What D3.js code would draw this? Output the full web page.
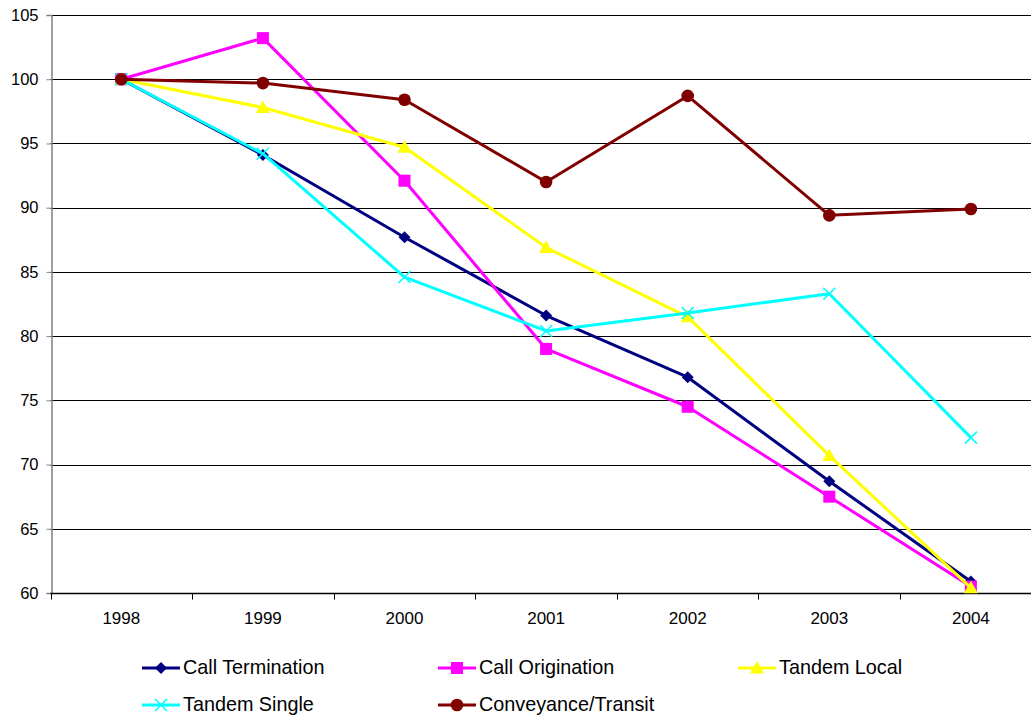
<!DOCTYPE html>
<html>
<head>
<meta charset="utf-8">
<script src="https://cdn.jsdelivr.net/npm/d3@7"></script>
<style>
  html, body { margin: 0; padding: 0; background: #fff; }
  svg { display: block; font-family: "Liberation Sans", Arial, Helvetica, sans-serif; }
</style>
</head>
<body>
<svg id="chart" width="1031" height="717"></svg>
<script>
// Index values (1998 = 100)
const years = ["1998", "1999", "2000", "2001", "2002", "2003", "2004"];
const yTicks = [60, 65, 70, 75, 80, 85, 90, 95, 100, 105];

const callTermination   = [100, 94.1, 87.7, 81.6, 76.8, 68.7, 60.9];
const callOrigination   = [100, 103.2, 92.1, 79.0, 74.5, 67.5, 60.5];
const tandemLocal       = [100, 97.8, 94.7, 86.9, 81.5, 70.7, 60.4];
const tandemSingle      = [100, 94.2, 84.6, 80.4, 81.8, 83.3, 72.1];
const conveyanceTransit = [100, 99.7, 98.4, 92.0, 98.7, 89.4, 89.9];

const seriesNames = ["Call Termination", "Call Origination", "Tandem Local", "Tandem Single", "Conveyance/Transit"];
const seriesValues = [callTermination, callOrigination, tandemLocal, tandemSingle, conveyanceTransit];
const seriesColors = ["#000080", "#FF00FF", "#FFFF00", "#00FFFF", "#800000"];
const seriesMarkers = ["diamond", "square", "triangle", "cross", "circle"];

const svg = d3.select("#chart");

const plotLeft = 50.5, plotTop = 15, plotBottom = 593;
const band = 141.6;
const plotRight = plotLeft + band * years.length;
const x = d3.scaleBand().domain(years).range([plotLeft, plotRight]);
const y = d3.scaleLinear().domain([60, 105]).range([plotBottom, plotTop]);
const xc = d => x(d) + x.bandwidth() / 2;

// Horizontal gridlines
svg.append("g")
  .selectAll("line")
  .data(yTicks.filter(t => t > 60))
  .join("line")
  .attr("x1", plotLeft).attr("x2", plotRight)
  .attr("y1", d => Math.round(y(d)) + 0.5).attr("y2", d => Math.round(y(d)) + 0.5)
  .attr("stroke", "#000").attr("stroke-width", 1);

// Y axis
const yAxis = svg.append("g")
  .attr("transform", `translate(${Math.round(plotLeft) + 0.5},0)`)
  .call(d3.axisLeft(y).tickValues(yTicks).tickSize(5).tickPadding(8).tickFormat(d3.format("d")));
yAxis.select(".domain").attr("stroke", "#808080").attr("stroke-width", 1.5);
yAxis.selectAll(".tick line").attr("stroke", "#808080");
yAxis.selectAll(".tick text").attr("font-size", 16.5).attr("fill", "#000")
  .attr("font-family", "Liberation Sans, Arial, sans-serif");

// X axis with ticks between categories
const xAxisG = svg.append("g").attr("transform", `translate(0,${Math.round(plotBottom) + 0.5})`);
xAxisG.append("line")
  .attr("x1", plotLeft).attr("x2", plotRight)
  .attr("stroke", "#000").attr("stroke-width", 1.5);
xAxisG.selectAll("line.tk")
  .data(years)
  .join("line").attr("class", "tk")
  .attr("x1", d => Math.round(x(d)) + 0.5).attr("x2", d => Math.round(x(d)) + 0.5)
  .attr("y1", 0).attr("y2", 6)
  .attr("stroke", "#000");
xAxisG.selectAll("text")
  .data(years)
  .join("text")
  .attr("x", d => xc(d))
  .attr("y", 26)
  .attr("text-anchor", "middle")
  .attr("dominant-baseline", "middle")
  .attr("font-size", 17)
  .attr("fill", "#000")
  .text(d => d);

// Marker drawing
function drawMarker(g, type, color, cx, cy) {
  if (type === "diamond") {
    const s = 6;
    g.append("path").attr("d", `M${cx},${cy - s}L${cx + s},${cy}L${cx},${cy + s}L${cx - s},${cy}Z`).attr("fill", color);
  } else if (type === "square") {
    g.append("rect").attr("x", cx - 6).attr("y", cy - 6).attr("width", 12).attr("height", 12).attr("fill", color);
  } else if (type === "triangle") {
    g.append("path").attr("d", `M${cx},${cy - 7}L${cx + 7},${cy + 5.5}L${cx - 7},${cy + 5.5}Z`).attr("fill", color);
  } else if (type === "cross") {
    const s = 6;
    g.append("path").attr("d", `M${cx - s},${cy - s}L${cx + s},${cy + s}M${cx - s},${cy + s}L${cx + s},${cy - s}`)
      .attr("stroke", color).attr("stroke-width", 1.6).attr("fill", "none");
  } else if (type === "circle") {
    g.append("circle").attr("cx", cx).attr("cy", cy).attr("r", 6.3).attr("fill", color);
  }
}

const line = d3.line().x((d, i) => xc(years[i])).y(d => y(d));

seriesValues.forEach((vals, si) => {
  const g = svg.append("g");
  g.append("path").datum(vals).attr("d", line)
    .attr("fill", "none").attr("stroke", seriesColors[si]).attr("stroke-width", 3)
    .attr("stroke-linejoin", "round");
  vals.forEach((v, i) => drawMarker(g, seriesMarkers[si], seriesColors[si], xc(years[i]), y(v)));
});

// Legend
const legendPos = [
  [142, 668], [438, 668], [738, 668],
  [142, 705], [438, 705]
];
seriesNames.forEach((name, si) => {
  const [lx, ly] = legendPos[si];
  const g = svg.append("g");
  g.append("line").attr("x1", lx).attr("x2", lx + 38).attr("y1", ly).attr("y2", ly)
    .attr("stroke", seriesColors[si]).attr("stroke-width", 3);
  drawMarker(g, seriesMarkers[si], seriesColors[si], lx + 19, ly);
  g.append("text").attr("x", lx + 41).attr("y", ly + 1)
    .attr("dominant-baseline", "middle")
    .attr("font-size", 19.8).attr("fill", "#000")
    .text(name);
});
</script>
</body>
</html>
